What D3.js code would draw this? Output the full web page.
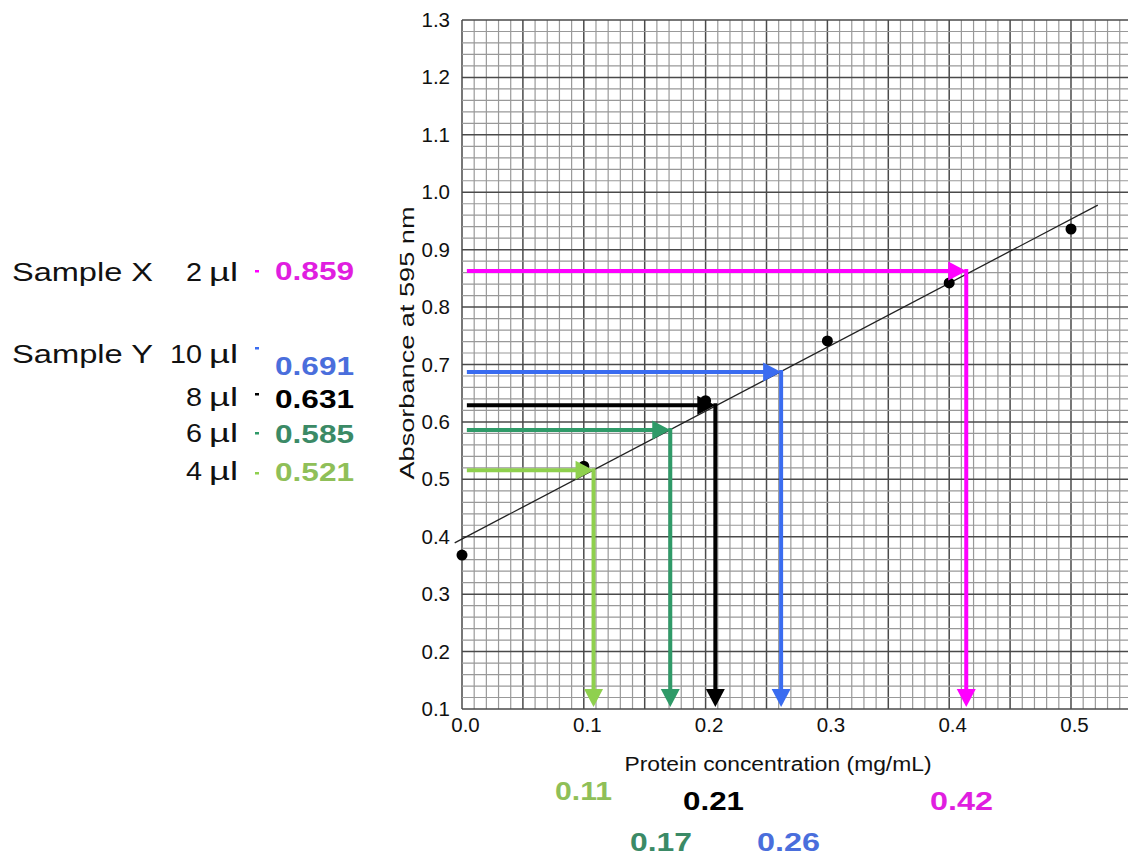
<!DOCTYPE html>
<html>
<head>
<meta charset="utf-8">
<script src="https://cdn.jsdelivr.net/npm/d3@7"></script>
<style>
body { margin: 0; background: #fff; }
text { font-family: "Liberation Sans", Arial, sans-serif; }
</style>
</head>
<body>
<script>
var width = 1128, height = 859;

// standard curve points
var stdConc = [0.0, 0.1, 0.2, 0.3, 0.4, 0.5];
var stdAbs = [0.368, 0.523, 0.637, 0.741, 0.842, 0.936];

// fitted line as drawn on the graph
var fitSlope = 1.114, fitIntercept = 0.396;
var fitExtent = [-0.006, 0.522];

// samples
var sampleNames = ["Sample X", "Sample Y", "", "", ""];
var sampleVolumes = ["2", "10", "8", "6", "4"];
var absLabels = ["0.859", "0.691", "0.631", "0.585", "0.521"];
var concLabels = ["0.42", "0.26", "0.21", "0.17", "0.11"];
var arrowAbs = [0.863, 0.687, 0.629, 0.586, 0.516];
var arrowConc = [0.414, 0.262, 0.208, 0.171, 0.108];
var arrowStart = 0.004;

var xTicks = [0.0, 0.1, 0.2, 0.3, 0.4, 0.5];
var yTicks = [0.1, 0.2, 0.3, 0.4, 0.5, 0.6, 0.7, 0.8, 0.9, 1.0, 1.1, 1.2, 1.3];

var arrowColors = ["#ff00ff", "#3a6cf0", "#000000", "#2f9a68", "#8fd04e"];
var textColors = ["#e01ee0", "#4a6edc", "#000000", "#3b8a66", "#8fbf58"];

// layout of the annotation text (pixels)
var rowBase = [281, 363, 406, 442, 480];
var numBase = [280, 375, 408, 443, 481];
var dashY = [271, 348, 394, 433, 473];
var concPos = [[930, 810, 63], [757, 851, 63], [683, 810, 61], [630, 851, 62], [555, 800, 57]];

var x = d3.scaleLinear().domain([0, 0.5468]).range([462, 1128]);
var y = d3.scaleLinear().domain([0.1, 1.3]).range([709, 20]);

var svg = d3.select("body").append("svg")
    .attr("width", width)
    .attr("height", height)
    .style("background-color", "#fff");

// graph paper
var grid = svg.append("g");
var vMinor = d3.range(0, 55).map(function (i) { return i / 100; });
var hMinor = d3.range(0, 61).map(function (i) { return 0.1 + i / 50; });

grid.selectAll(".vline")
    .data(vMinor)
    .enter().append("line")
    .attr("x1", function (d) { return x(d); })
    .attr("x2", function (d) { return x(d); })
    .attr("y1", y(1.3))
    .attr("y2", y(0.1))
    .attr("stroke", function (d, i) { return i % 5 == 0 ? "#4a4a4a" : "#999"; })
    .attr("stroke-width", function (d, i) { return i % 5 == 0 ? 1.5 : 1.2; });

grid.selectAll(".hline")
    .data(hMinor)
    .enter().append("line")
    .attr("x1", x(0))
    .attr("x2", width)
    .attr("y1", function (d) { return y(d); })
    .attr("y2", function (d) { return y(d); })
    .attr("stroke", function (d, i) { return i % 5 == 0 ? "#4a4a4a" : "#999"; })
    .attr("stroke-width", function (d, i) { return i % 5 == 0 ? 1.5 : 1.2; });

// axes (labels only)
var xAxis = svg.append("g")
    .attr("transform", "translate(0," + y(0.1) + ")")
    .call(d3.axisBottom(x).tickValues(xTicks).tickSize(0).tickPadding(8).tickFormat(d3.format(".1f")));
var yAxis = svg.append("g")
    .attr("transform", "translate(" + x(0) + ",0)")
    .call(d3.axisLeft(y).tickValues(yTicks).tickSize(0).tickPadding(12).tickFormat(d3.format(".1f")));
svg.selectAll(".domain").remove();
svg.selectAll(".tick text")
    .attr("font-family", "'Liberation Sans', Arial, sans-serif")
    .attr("font-size", "20.5px")
    .attr("fill", "#111");
xAxis.selectAll(".tick text").attr("dx", "3px");

svg.append("text")
    .attr("transform", "translate(414,343) rotate(-90)")
    .style("text-anchor", "middle")
    .attr("font-size", "20px")
    .attr("textLength", 273)
    .attr("lengthAdjust", "spacingAndGlyphs")
    .attr("fill", "#111")
    .text("Absorbance at 595 nm");

svg.append("text")
    .attr("x", 778)
    .attr("y", 771)
    .style("text-anchor", "middle")
    .attr("font-size", "20px")
    .attr("textLength", 307)
    .attr("lengthAdjust", "spacingAndGlyphs")
    .attr("fill", "#111")
    .text("Protein concentration (mg/mL)");

// fitted line
svg.append("line")
    .attr("x1", x(fitExtent[0]))
    .attr("y1", y(fitIntercept + fitSlope * fitExtent[0]))
    .attr("x2", x(fitExtent[1]))
    .attr("y2", y(fitIntercept + fitSlope * fitExtent[1]))
    .attr("stroke", "#222")
    .attr("stroke-width", 1.3);

// standards
svg.selectAll(".pt")
    .data(stdConc)
    .enter().append("circle")
    .attr("cx", function (d) { return x(d); })
    .attr("cy", function (d, i) { return y(stdAbs[i]); })
    .attr("r", 5.5)
    .attr("fill", "#000");

// read-off arrows
var head = 18, half = 9.5;
arrowAbs.forEach(function (a, i) {
    var g = svg.append("g");
    var ax = x(arrowConc[i]), ay = y(a), by = y(0.1) - 2;
    g.append("line")
        .attr("x1", x(arrowStart)).attr("y1", ay)
        .attr("x2", ax - head + 2).attr("y2", ay)
        .attr("stroke", arrowColors[i]).attr("stroke-width", 4);
    g.append("path")
        .attr("d", "M" + ax + "," + ay + "L" + (ax - head) + "," + (ay - half) + "L" + (ax - head) + "," + (ay + half) + "Z")
        .attr("fill", arrowColors[i]);
    g.append("line")
        .attr("x1", ax).attr("y1", ay - 2)
        .attr("x2", ax).attr("y2", by - head + 2)
        .attr("stroke", arrowColors[i]).attr("stroke-width", 4);
    g.append("path")
        .attr("d", "M" + ax + "," + by + "L" + (ax - half) + "," + (by - head) + "L" + (ax + half) + "," + (by - head) + "Z")
        .attr("fill", arrowColors[i]);
});

// left annotations
sampleVolumes.forEach(function (v, i) {
    if (sampleNames[i]) {
        svg.append("text")
            .attr("x", 12).attr("y", rowBase[i])
            .attr("font-size", "25px")
            .attr("textLength", 141)
            .attr("lengthAdjust", "spacingAndGlyphs")
            .attr("fill", "#111")
            .text(sampleNames[i]);
    }
    svg.append("text")
        .attr("x", 202).attr("y", rowBase[i])
        .style("text-anchor", "end")
        .attr("font-size", "25px")
        .attr("textLength", v.length * 16)
        .attr("lengthAdjust", "spacingAndGlyphs")
        .attr("fill", "#111")
        .text(v);
    svg.append("text")
        .attr("x", 209).attr("y", rowBase[i])
        .attr("font-family", "'Liberation Serif', 'Times New Roman', serif")
        .attr("font-size", "26px")
        .attr("textLength", 29)
        .attr("lengthAdjust", "spacingAndGlyphs")
        .attr("fill", "#111")
        .text("\u00b5l");
    svg.append("rect")
        .attr("x", 255).attr("y", dashY[i] - 1)
        .attr("width", 4).attr("height", 2.5)
        .attr("fill", arrowColors[i]);
    svg.append("text")
        .attr("x", 275).attr("y", numBase[i])
        .attr("font-size", "25px")
        .attr("font-weight", "700")
        .attr("textLength", 79)
        .attr("lengthAdjust", "spacingAndGlyphs")
        .attr("fill", textColors[i])
        .text(absLabels[i]);
});

// bottom concentration labels
concLabels.forEach(function (c, i) {
    svg.append("text")
        .attr("x", concPos[i][0]).attr("y", concPos[i][1])
        .attr("font-size", "25px")
        .attr("font-weight", "700")
        .attr("textLength", concPos[i][2])
        .attr("lengthAdjust", "spacingAndGlyphs")
        .attr("fill", textColors[i])
        .text(c);
});
</script>
</body>
</html>
